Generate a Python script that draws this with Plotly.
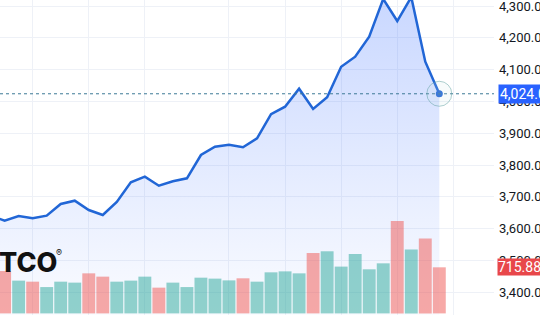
import plotly.graph_objects as go

# ---- data ----
# index -1 is the session just left of the visible window
idx = list(range(-1, 32))
price = [3641.5, 3624.8, 3639.6, 3632.4, 3640.6, 3677.4, 3687.7, 3658.5, 3642.8,
         3683.6, 3745.6, 3763.2, 3734.9, 3748.7, 3758.2, 3831.4, 3857.5, 3863.8,
         3855.7, 3884.0, 3959.7, 3983.3, 4039.9, 3976.1, 4012.9, 4109.1, 4140.6,
         4203.5, 4322.0, 4252.8, 4328.0, 4124.8, 4024.0]
volume = [600, 658, 509, 493, 409, 493, 478, 622, 571, 493, 509, 571, 400, 478,
          409, 555, 540, 513, 545, 493, 638, 653, 622, 938, 965, 727, 923, 685,
          778, 1436, 991, 1162, 715.88]
y_ticks = [3400, 3500, 3600, 3700, 3800, 3900, 4000, 4100, 4200, 4300]
x_grid = [2, 6, 10, 16, 20, 24, 28, 32]

UP = "rgba(38,166,154,0.5)"
DOWN = "rgba(239,83,80,0.5)"
LINE = "#2166d6"

bar_colors = [UP] + [UP if price[i] >= price[i - 1] else DOWN for i in range(1, len(price))]

fig = go.Figure()

fig.add_trace(go.Scatter(
    x=idx, y=price, mode="lines",
    line=dict(color=LINE, width=2.5),
    fill="tozeroy",
    fillgradient=dict(type="vertical", start=3330, stop=4320,
                      colorscale=[[0, "rgba(41,98,255,0.02)"], [1, "rgba(41,98,255,0.25)"]]),
    hoverinfo="skip", showlegend=False,
))

fig.add_trace(go.Bar(
    x=idx, y=volume, yaxis="y2", marker=dict(color=bar_colors, line=dict(width=0)),
    showlegend=False, hoverinfo="skip",
))

# last point marker
fig.add_trace(go.Scatter(
    x=[idx[-1]], y=[price[-1]], mode="markers",
    marker=dict(color=LINE, size=7), showlegend=False, hoverinfo="skip",
))

# price line (dotted)
fig.add_shape(type="line", xref="paper", x0=0, x1=1, yref="y", y0=price[-1], y1=price[-1],
              line=dict(color="#3d7a96", width=1, dash="dot"))
# halo circle
fig.add_shape(type="circle", xref="x", yref="y", xsizemode="pixel", ysizemode="pixel",
              xanchor=idx[-1], yanchor=price[-1], x0=-12.5, x1=12.5, y0=-12.5, y1=12.5,
              line=dict(color="rgba(80,150,150,0.45)", width=1),
              fillcolor="rgba(200,230,230,0.15)")

fig.add_annotation(xref="paper", x=1, xanchor="left", xshift=4, yref="y", y=price[-1],
                   text=f"{price[-1]:,.2f}", showarrow=False, bgcolor="#2962ff",
                   font=dict(color="white", size=14, family="Roboto"), borderpad=1)
fig.add_annotation(xref="paper", x=1, xanchor="left", xshift=3, yref="y2", y=volume[-1],
                   text=f"{volume[-1]:,.2f}", showarrow=False, bgcolor="#e8474a",
                   font=dict(color="white", size=14, family="Roboto"), borderpad=0)
fig.add_annotation(xref="paper", x=0, xanchor="left", xshift=-3, yref="paper", y=0.168,
                   yanchor="middle", text="TCO", showarrow=False,
                   font=dict(color="#111111", size=27, family="Inter", weight=800))
fig.add_annotation(xref="paper", x=0.12, xanchor="center", yref="paper", y=0.197,
                   yanchor="middle", text="®", showarrow=False,
                   font=dict(color="#111111", size=9, family="Inter"))

fig.update_layout(
    width=540, height=315, margin=dict(l=0, r=46, t=0, b=0),
    paper_bgcolor="white", plot_bgcolor="white", bargap=0.08,
    xaxis=dict(range=[-0.33, 34.9], tickvals=x_grid, showticklabels=False,
               gridcolor="#eef1f7", gridwidth=1, zeroline=False, showline=False),
    yaxis=dict(range=[3328.3, 4318.9], side="right", tickvals=y_ticks, tickformat=",.2f",
               gridcolor="#eef1f7", zeroline=False, showline=False, automargin=False,
               ticklabeloverflow="allow", ticklabelstandoff=4,
               tickfont=dict(color="#131722", size=13, family="Roboto")),
    yaxis2=dict(range=[-25, 4870], overlaying="y", visible=False, showgrid=False),
)

fig.write_html("out.html")
